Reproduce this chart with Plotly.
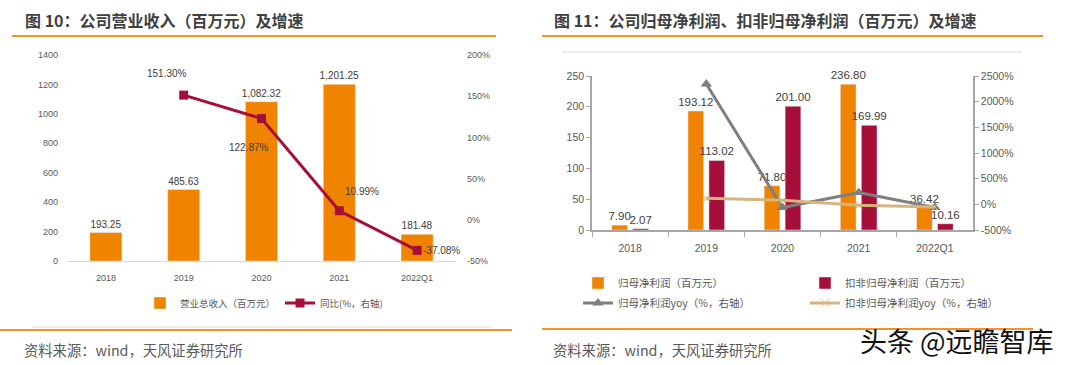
import plotly.graph_objects as go

# ---------------- data ----------------
cats = ["2018", "2019", "2020", "2021", "2022Q1"]
revenue = [193.25, 485.63, 1082.32, 1201.25, 181.48]
revenue_yoy = [None, 151.30, 122.87, 10.99, -37.08]

net_profit = [7.90, 193.12, 71.80, 236.80, 36.42]
net_profit_ded = [2.07, 113.02, 201.00, 169.99, 10.16]
net_profit_yoy = [None, 2344.56, -62.82, 229.81, -60.0]
net_profit_ded_yoy = [None, 117.0, 77.85, -15.43, -50.0]

left_ticks = [0, 200, 400, 600, 800, 1000, 1200, 1400]
left_pct_ticks = [-50, 0, 50, 100, 150, 200]
right_ticks = [0, 50, 100, 150, 200, 250]
right_pct_ticks = [-500, 0, 500, 1000, 1500, 2000, 2500]

# ---------------- style ----------------
W, H = 1080, 365
ORANGE = "#F08300"
CRIMSON = "#A50F3A"
GRAY = "#7F7F7F"
TAN = "#D6B47E"
LINE_ORANGE = "#F5902A"
TXT = "#404040"
TICK = "#595959"
NUMFONT = "Liberation Sans Narrow, Arial Narrow, Liberation Sans, Noto Sans CJK SC"
CJK = "Noto Sans CJK SC, Noto Sans, sans-serif"


def px_x(p):
    return p / W


def px_y(p):
    return 1 - p / H


fig = go.Figure()

# ---- left chart ----
fig.add_trace(go.Bar(
    x=cats, y=revenue, name="营业总收入（百万元）", marker_color=ORANGE,
    text=[f"{v:,.2f}" for v in revenue], textposition="outside", constraintext="none",
    textfont=dict(size=10, color=TXT, family=NUMFONT), cliponaxis=False,
    xaxis="x", yaxis="y", legend="legend",
))
fig.add_trace(go.Scatter(
    x=cats, y=revenue_yoy, name="同比(%，右轴)", mode="lines+markers",
    line=dict(color=CRIMSON, width=3), marker=dict(symbol="square", size=9, color=CRIMSON),
    xaxis="x", yaxis="y2", legend="legend", cliponaxis=False,
))

# ---- right chart ----
fig.add_trace(go.Bar(
    x=cats, y=net_profit, name="归母净利润（百万元）", marker_color=ORANGE,
    text=[f"{v:.2f}" for v in net_profit], textposition="outside", constraintext="none",
    textfont=dict(size=11.5, color=TXT, family=NUMFONT), cliponaxis=False,
    xaxis="x3", yaxis="y3", legend="legend2",
))
fig.add_trace(go.Bar(
    x=cats, y=net_profit_ded, name="扣非归母净利润（百万元）", marker_color=CRIMSON,
    text=[f"{v:.2f}" for v in net_profit_ded], textposition="outside", constraintext="none",
    textfont=dict(size=11.5, color=TXT, family=NUMFONT), cliponaxis=False,
    xaxis="x3", yaxis="y3", legend="legend2",
))
fig.add_trace(go.Scatter(
    x=cats, y=net_profit_yoy, name="归母净利润yoy（%，右轴）", mode="lines+markers",
    line=dict(color=GRAY, width=3), marker=dict(symbol="triangle-up", size=10, color=GRAY),
    xaxis="x3", yaxis="y4", legend="legend3", cliponaxis=False,
))
fig.add_trace(go.Scatter(
    x=cats, y=net_profit_ded_yoy, name="扣非归母净利润yoy（%，右轴）", mode="lines+markers",
    line=dict(color=TAN, width=3), marker=dict(symbol="x-thin", size=7, color=TAN,
                                               line=dict(color=TAN, width=1)),
    xaxis="x3", yaxis="y4", legend="legend3", cliponaxis=False,
))

# line labels for left chart (offsets relative to data points; x = category index)
label_offsets = {1: (-17, 22), 2: (-13, -29), 3: (23, 19), 4: (24, 0)}
annotations = []
for i, (dx, dy) in label_offsets.items():
    annotations.append(dict(
        x=i, y=revenue_yoy[i], xref="x", yref="y2",
        text=f"{revenue_yoy[i]:.2f}%", showarrow=False, xshift=dx, yshift=dy,
        font=dict(size=10, color=TXT, family=NUMFONT),
    ))

# titles, footers, watermark
annotations += [
    dict(text="<b>图 10：公司营业收入（百万元）及增速</b>", x=px_x(23), y=px_y(20),
         xref="paper", yref="paper", xanchor="left", yanchor="middle", showarrow=False,
         font=dict(size=16, color=TXT, family=CJK)),
    dict(text="<b>图 11：公司归母净利润、扣非归母净利润（百万元）及增速</b>", x=px_x(552), y=px_y(20),
         xref="paper", yref="paper", xanchor="left", yanchor="middle", showarrow=False,
         font=dict(size=16, color=TXT, family=CJK)),
    dict(text="资料来源：wind，天风证券研究所", x=px_x(22), y=px_y(349),
         xref="paper", yref="paper", xanchor="left", yanchor="middle", showarrow=False,
         font=dict(size=14.3, color=TICK, family=CJK)),
    dict(text="资料来源：wind，天风证券研究所", x=px_x(551), y=px_y(349),
         xref="paper", yref="paper", xanchor="left", yanchor="middle", showarrow=False,
         font=dict(size=14.3, color=TICK, family=CJK)),
    dict(text="头条 @远瞻智库", x=px_x(858), y=px_y(340),
         xref="paper", yref="paper", xanchor="left", yanchor="middle", showarrow=False,
         font=dict(size=27, color="#111111", family=CJK)),
]

shapes = [
    dict(type="line", xref="paper", yref="paper", x0=px_x(12), x1=px_x(496), y0=px_y(36), y1=px_y(36),
         line=dict(color=LINE_ORANGE, width=2)),
    dict(type="line", xref="paper", yref="paper", x0=px_x(542), x1=px_x(1043), y0=px_y(36), y1=px_y(36),
         line=dict(color=LINE_ORANGE, width=2)),
    dict(type="line", xref="paper", yref="paper", x0=px_x(0), x1=px_x(512), y0=px_y(330), y1=px_y(330),
         line=dict(color=LINE_ORANGE, width=2)),
    dict(type="line", xref="paper", yref="paper", x0=px_x(542), x1=px_x(1033), y0=px_y(329), y1=px_y(329),
         line=dict(color=LINE_ORANGE, width=2)),
    dict(type="line", xref="paper", yref="paper", x0=px_x(32), x1=px_x(492), y0=px_y(327), y1=px_y(327),
         line=dict(color="#EEEEEE", width=2), layer="below"),
    dict(type="line", xref="paper", yref="paper", x0=px_x(562), x1=px_x(1022), y0=px_y(52), y1=px_y(52),
         line=dict(color="#EEEEEE", width=2), layer="below"),
]

lfont = dict(size=9, color=TICK, family=NUMFONT)
rfont = dict(size=10.5, color=TICK, family=NUMFONT)
AX = "#A6A6A6"

fig.update_layout(
    width=W, height=H, margin=dict(l=0, r=0, t=0, b=0, autoexpand=False),
    paper_bgcolor="white", plot_bgcolor="rgba(0,0,0,0)",
    barmode="group", bargap=0.45, bargroupgap=0.25,
    showlegend=True,
    annotations=annotations, shapes=shapes,
    xaxis=dict(domain=[px_x(67), px_x(456)], anchor="y", type="category", automargin=False,
               range=[-0.5, 4.5],
               showline=True, linecolor="#D9D9D9", linewidth=1, ticks="",
               showgrid=False, tickfont=lfont, ticklabelstandoff=8),
    yaxis=dict(domain=[px_y(261), px_y(55)], anchor="x", range=[0, 1400], tickvals=left_ticks,
               automargin=False,
               showgrid=False, zeroline=False, showline=False, tickfont=lfont,
               ticklabelstandoff=8),
    yaxis2=dict(overlaying="y", side="right", anchor="x", range=[-50, 200], tickvals=left_pct_ticks,
                ticktext=[f"{v}%" for v in left_pct_ticks], automargin=False,
                showgrid=False, zeroline=False, showline=False, tickfont=lfont,
                ticklabelstandoff=10),
    xaxis3=dict(domain=[px_x(592), px_x(973)], anchor="y3", type="category", automargin=False,
                range=[-0.5, 4.5],
                showline=True, linecolor=AX, linewidth=1.5, ticks="outside", tickson="boundaries",
                ticklen=5, tickcolor=AX, showgrid=False, tickfont=rfont, ticklabelstandoff=8),
    yaxis3=dict(domain=[px_y(230), px_y(76)], anchor="x3", range=[0, 250], tickvals=right_ticks,
                automargin=False,
                showline=True, linecolor=AX, linewidth=1.5, ticks="outside", ticklen=4, tickcolor=AX,
                showgrid=False, zeroline=False, tickfont=rfont),
    yaxis4=dict(overlaying="y3", side="right", anchor="x3", range=[-500, 2500], tickvals=right_pct_ticks,
                ticktext=[f"{v}%" for v in right_pct_ticks], automargin=False,
                showline=True, linecolor=AX, linewidth=1.5, ticks="outside", ticklen=4, tickcolor=AX,
                showgrid=False, zeroline=False, tickfont=rfont),
    legend=dict(orientation="h", x=px_x(140), y=px_y(303), xanchor="left", yanchor="middle",
                font=dict(size=9.5, color=TICK, family=CJK), bgcolor="rgba(0,0,0,0)"),
    legend2=dict(orientation="h", x=px_x(578), y=px_y(283), xanchor="left", yanchor="middle",
                 entrywidth=182, entrywidthmode="pixels",
                 font=dict(size=10.5, color=TICK, family=CJK), bgcolor="rgba(0,0,0,0)"),
    legend3=dict(orientation="h", x=px_x(578), y=px_y(303), xanchor="left", yanchor="middle",
                 entrywidth=182, entrywidthmode="pixels",
                 font=dict(size=10.5, color=TICK, family=CJK), bgcolor="rgba(0,0,0,0)"),
)

fig.write_html("out.html", config={"displayModeBar": False},
               post_script="document.body.style.margin='0';")
